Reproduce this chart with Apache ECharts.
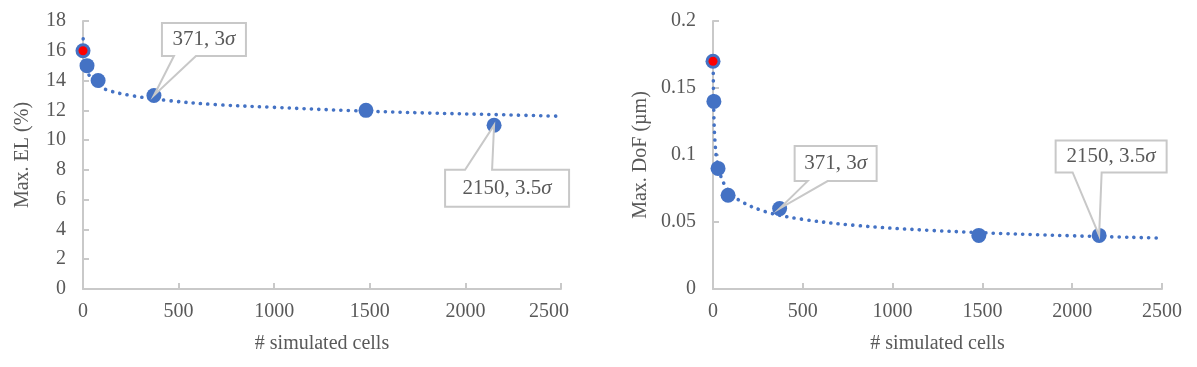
<!DOCTYPE html>
<html>
<head>
<meta charset="utf-8">
<script src="https://cdn.jsdelivr.net/npm/echarts@6/dist/echarts.min.js"></script>
<style>
  html, body { margin: 0; padding: 0; background: #fff; }
  #chart { width: 1197px; height: 367px; }
</style>
</head>
<body>
<div id="chart"></div>
<script>
// measured points (# simulated cells vs. max EL / max DoF)
const elCells = [0, 21, 79, 371, 1480, 2150]
const elValues = [16, 15, 14, 13, 12, 11]
const dofCells = [0, 5, 28, 84, 371, 1480, 2150]
const dofValues = [0.17, 0.14, 0.09, 0.07, 0.06, 0.04, 0.04]

// trend lines
const elTrendCells = [1, 5, 15, 30, 60, 120, 250, 450, 700, 1000, 1400, 1800, 2200, 2500]
const elTrendValues = [16.8, 15.6, 14.9, 14.4, 13.9, 13.4, 13.0, 12.65, 12.38, 12.2, 11.98, 11.82, 11.7, 11.6]
const dofTrendCells = [1, 2, 5, 10, 20, 40, 80, 150, 300, 500, 800, 1200, 1800, 2500]
const dofTrendValues = [0.172, 0.154, 0.129, 0.112, 0.098, 0.0855, 0.0745, 0.0659, 0.0574, 0.052, 0.0474, 0.0438, 0.0405, 0.038]

// callouts
const elCalloutCells = [371, 2150]
const elCalloutValues = [13, 11]
const dofCalloutCells = [371, 2150]
const dofCalloutValues = [0.06, 0.04]
const calloutLabels = ['371, 3{i|σ}', '2150, 3.5{i|σ}']

const BLUE = '#4472C4'
const GREY = '#595959'
const AXIS = '#c9c9c9'
const FONT = 'Liberation Serif'

// box placement relative to the pointed point: centre offset, size, pointer base (from box left), side
const elBoxes = [
  { dx: 50, dy: -56, w: 84, h: 33, b1: 12, b2: 34, side: 'bottom' },
  { dx: 13, dy: 63, w: 124, h: 37, b1: 20, b2: 47, side: 'top' }
]
const dofBoxes = [
  { dx: 56, dy: -45, w: 82, h: 35, b1: 13, b2: 33, side: 'bottom' },
  { dx: 12, dy: -79, w: 111, h: 32, b1: 17, b2: 46, side: 'bottom' }
]

function zip(a, b) {
  return a.map((v, i) => [v, b[i]])
}

function callout(boxes) {
  return function (params, api) {
    const p = api.coord([api.value(0), api.value(1)])
    const c = boxes[params.dataIndex]
    const l = p[0] + c.dx - c.w / 2
    const t = p[1] + c.dy - c.h / 2
    const r = l + c.w
    const b = t + c.h
    let pts
    if (c.side === 'bottom') {
      pts = [[l, t], [r, t], [r, b], [l + c.b2, b], p, [l + c.b1, b], [l, b]]
    } else {
      pts = [[l, t], [l + c.b1, t], p, [l + c.b2, t], [r, t], [r, b], [l, b]]
    }
    return {
      type: 'group',
      children: [
        {
          type: 'polygon',
          shape: { points: pts },
          style: { fill: '#fff', stroke: '#c8c8c8', lineWidth: 2 }
        },
        {
          type: 'text',
          x: l + c.w / 2,
          y: t + c.h / 2,
          style: {
            text: calloutLabels[params.dataIndex],
            fill: GREY,
            font: '21px "' + FONT + '"',
            align: 'center',
            verticalAlign: 'middle',
            rich: { i: { fontStyle: 'italic', fontSize: 21, fontFamily: FONT, fill: GREY } }
          }
        }
      ]
    }
  }
}

// the left chart pulls its last tick label inwards a little, as the original does
function xAxis(idx, shiftLast) {
  return {
    type: 'value', gridIndex: idx, min: 0, max: 2500, interval: 500,
    name: '# simulated cells', nameLocation: 'middle', nameGap: 45,
    nameTextStyle: { color: GREY, fontFamily: FONT, fontSize: 20 },
    axisLine: { show: true, lineStyle: { color: AXIS, width: 2 } },
    axisTick: { show: true, inside: true, length: 6, lineStyle: { color: AXIS, width: 2 } },
    axisLabel: {
      color: GREY, fontFamily: FONT, fontSize: 20, margin: 13,
      formatter: v => (shiftLast && v === 2500 ? '{m|' + v + '}' : String(v)),
      rich: { m: { color: GREY, fontFamily: FONT, fontSize: 20, padding: [0, 24, 0, 0] } }
    },
    splitLine: { show: false }
  }
}

function yAxis(idx, max, interval, name, gap) {
  return {
    type: 'value', gridIndex: idx, min: 0, max: max, interval: interval,
    name: name, nameLocation: 'middle', nameGap: gap,
    nameTextStyle: { color: GREY, fontFamily: FONT, fontSize: 20 },
    axisLine: { show: true, lineStyle: { color: AXIS, width: 2 } },
    axisTick: { show: true, inside: true, length: 6, lineStyle: { color: AXIS, width: 2 } },
    axisLabel: { color: GREY, fontFamily: FONT, fontSize: 20, margin: 17 },
    splitLine: { show: false }
  }
}

const dotted = { color: BLUE, width: 3.6, type: [0.1, 7.3], cap: 'round' }
const dot = { color: BLUE, opacity: 1 }

const myChart = echarts.init(document.getElementById('chart'), null, { renderer: 'canvas' })
myChart.setOption({
  backgroundColor: '#fff',
  animation: false,
  grid: [
    { left: 83, right: 636, top: 21, bottom: 78 },
    { left: 713, right: 35, top: 21, bottom: 78 }
  ],
  xAxis: [xAxis(0, true), xAxis(1, false)],
  yAxis: [
    yAxis(0, 18, 2, 'Max. EL (%)', 50),
    yAxis(1, 0.2, 0.05, 'Max. DoF (µm)', 62)
  ],
  series: [
    {
      type: 'line', xAxisIndex: 0, yAxisIndex: 0, data: zip(elTrendCells, elTrendValues),
      showSymbol: false, smooth: 0.35, lineStyle: dotted, z: 2
    },
    {
      type: 'scatter', xAxisIndex: 0, yAxisIndex: 0, data: zip(elCells, elValues),
      symbolSize: 15, itemStyle: dot, z: 3
    },
    {
      type: 'scatter', xAxisIndex: 0, yAxisIndex: 0, data: zip(elCells, elValues).slice(0, 1),
      symbolSize: 9, itemStyle: { color: '#ff0000', opacity: 1 }, z: 4
    },
    {
      type: 'custom', xAxisIndex: 0, yAxisIndex: 0, data: zip(elCalloutCells, elCalloutValues),
      renderItem: callout(elBoxes), z: 5
    },
    {
      type: 'line', xAxisIndex: 1, yAxisIndex: 1, data: zip(dofTrendCells, dofTrendValues),
      showSymbol: false, smooth: 0.35, lineStyle: dotted, z: 2
    },
    {
      type: 'scatter', xAxisIndex: 1, yAxisIndex: 1, data: zip(dofCells, dofValues),
      symbolSize: 15, itemStyle: dot, z: 3
    },
    {
      type: 'scatter', xAxisIndex: 1, yAxisIndex: 1, data: zip(dofCells, dofValues).slice(0, 1),
      symbolSize: 9, itemStyle: { color: '#ff0000', opacity: 1 }, z: 4
    },
    {
      type: 'custom', xAxisIndex: 1, yAxisIndex: 1, data: zip(dofCalloutCells, dofCalloutValues),
      renderItem: callout(dofBoxes), z: 5
    }
  ]
})
</script>
</body>
</html>
